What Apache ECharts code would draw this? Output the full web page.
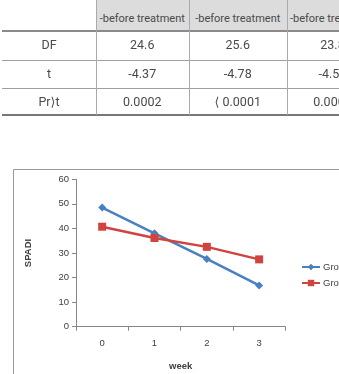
<!DOCTYPE html>
<html>
<head>
<meta charset="utf-8">
<script src="https://cdn.jsdelivr.net/npm/echarts@6/dist/echarts.min.js"></script>
<style>
    html, body { margin: 0; padding: 0; background: #fff; }
    #wrap { position: relative; width: 339px; height: 374px; overflow: hidden; }
    #chart { position: absolute; left: 0; top: 0; width: 339px; height: 374px; }
    #tbl { position: absolute; left: 0; top: 0; width: 339px; height: 120px;
           font-family: Roboto, "DejaVu Sans", sans-serif; font-size: 12.5px; color: #4a4a4a; }
    .cell { position: absolute; text-align: center; white-space: nowrap; overflow: hidden; }
    .head { font-size: 11px; }
    .line { position: absolute; }
</style>
</head>
<body>
<div id="wrap">
    <div id="chart"></div>
    <div id="tbl"></div>
</div>
<script>
// 表格数据
let headers = ['-before treatment', '-before treatment', '-before treatment'];
let rowLabels = ['DF', 't', 'Pr\u27E9t'];
let dfValues = ['24.6', '25.6', '23.8'];
let tValues = ['-4.37', '-4.78', '-4.52'];
let pValues = ['0.0002', '\u27E8 0.0001', '0.0001'];

// 图表数据
let weeks = ['0', '1', '2', '3'];
let group1 = [48.5, 38.0, 27.6, 16.8];
let group2 = [40.7, 36.1, 32.5, 27.4];

// 表格布局
let colX = [2, 96, 188.5, 287, 378];
let rowY = [0, 31, 59.5, 87.5, 114.5];

let tbl = document.getElementById('tbl');
let addDiv = function (cls, style, text) {
    let d = document.createElement('div');
    d.className = cls;
    Object.assign(d.style, style);
    if (text !== undefined) d.textContent = text;
    tbl.appendChild(d);
    return d;
};

// header background
addDiv('line', { left: colX[1] + 'px', top: '0px', width: (colX[4] - colX[1]) + 'px',
    height: rowY[1] + 'px', background: '#dcdcdc' });

let rows = [headers, dfValues, tValues, pValues];
rows.forEach(function (row, r) {
    let h = rowY[r + 1] - rowY[r];
    if (r > 0) {
        addDiv('cell', { left: colX[0] + 'px', top: rowY[r] + 'px', width: (colX[1] - colX[0]) + 'px',
            height: h + 'px', lineHeight: h + 'px' }, rowLabels[r - 1]);
    }
    row.forEach(function (txt, c) {
        addDiv(r === 0 ? 'cell head' : 'cell', { left: colX[c + 1] + 'px', top: rowY[r] + 'px',
            width: (colX[c + 2] - colX[c + 1]) + 'px',
            height: h + 'px', lineHeight: (r === 0 ? 38 : h) + 'px' }, txt);
    });
});

// horizontal lines
addDiv('line', { left: colX[0] + 'px', top: (rowY[1] - 1) + 'px', width: '340px', height: '2px', background: '#8a8a8a' });
addDiv('line', { left: colX[0] + 'px', top: rowY[2] + 'px', width: '340px', height: '1px', background: '#a0a0a0' });
addDiv('line', { left: colX[0] + 'px', top: rowY[3] + 'px', width: '340px', height: '1px', background: '#a0a0a0' });
addDiv('line', { left: colX[0] + 'px', top: (rowY[4] - 1) + 'px', width: '340px', height: '2px', background: '#777' });
// vertical lines
[colX[1], colX[2], colX[3]].forEach(function (x) {
    addDiv('line', { left: x + 'px', top: '0px', width: '1px', height: rowY[4] + 'px', background: '#aaa' });
});

// 折线图
let chart = echarts.init(document.getElementById('chart'));
let axisColor = '#868686';
let labelColor = '#404040';
let font = '"Liberation Sans", "DejaVu Sans", sans-serif';

chart.setOption({
    animation: false,
    textStyle: { fontFamily: font },
    graphic: [{
        type: 'rect',
        shape: { x: 13.5, y: 169.5, width: 400, height: 300 },
        style: { fill: 'none', stroke: '#9a9a9a', lineWidth: 1 },
        silent: true
    }],
    grid: { left: 76, top: 179.3, right: 53.7, bottom: 47.3 },
    legend: {
        orient: 'vertical',
        left: 296,
        top: 257,
        itemWidth: 18,
        itemHeight: 8,
        itemGap: 6,
        textStyle: { fontSize: 9.5, color: labelColor, padding: [0, 0, 0, -2] },
        data: ['Group 1', 'Group 2']
    },
    xAxis: {
        type: 'category',
        data: weeks,
        boundaryGap: true,
        name: 'week',
        nameLocation: 'middle',
        nameGap: 35,
        nameTextStyle: { fontSize: 9.5, fontWeight: 'bold', color: labelColor },
        axisLine: { lineStyle: { color: axisColor, width: 1 } },
        axisTick: { show: true, length: 4, lineStyle: { color: axisColor } },
        axisLabel: { fontSize: 9.5, color: labelColor, margin: 12 }
    },
    yAxis: {
        type: 'value',
        min: 0,
        max: 60,
        interval: 10,
        name: 'SPADI',
        nameLocation: 'middle',
        nameRotate: 90,
        nameGap: 43,
        nameTextStyle: { fontSize: 9.5, fontWeight: 'bold', color: labelColor },
        axisLine: { show: true, lineStyle: { color: axisColor, width: 1 } },
        axisTick: { show: true, length: 4, lineStyle: { color: axisColor } },
        axisLabel: { fontSize: 9.5, color: labelColor, margin: 7 },
        splitLine: { show: false }
    },
    series: [{
        name: 'Group 1',
        type: 'line',
        data: group1,
        symbol: 'diamond',
        symbolSize: 8,
        lineStyle: { width: 2.5, color: '#4a7fc1' },
        itemStyle: { color: '#4a7fc1' }
    }, {
        name: 'Group 2',
        type: 'line',
        data: group2,
        symbol: 'rect',
        symbolSize: 8,
        lineStyle: { width: 2.5, color: '#d0433f' },
        itemStyle: { color: '#d0433f' }
    }]
});
</script>
</body>
</html>
